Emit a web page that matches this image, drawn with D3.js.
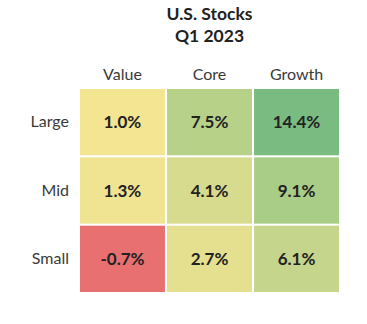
<!DOCTYPE html>
<html>
<head>
<meta charset="utf-8">
<script src="https://cdn.jsdelivr.net/npm/d3@7"></script>
<style>
  html, body { margin: 0; padding: 0; background: #fff; }
  svg { display: block; }
</style>
</head>
<body>
<svg id="chart" width="367" height="324"></svg>
<script>
// Style-box returns for U.S. stocks, first quarter of 2023
const titleLines = ["U.S. Stocks", "Q1 2023"];
const styles = ["Value", "Core", "Growth"];
const sizes = ["Large", "Mid", "Small"];
const large = [1.0, 7.5, 14.4];
const mid = [1.3, 4.1, 9.1];
const small = [-0.7, 2.7, 6.1];

const rows = [large, mid, small];
const cells = [];
sizes.forEach((s, i) => {
  styles.forEach((st, j) => cells.push({ size: s, style: st, value: rows[i][j] }));
});

const svg = d3.select("#chart");
const width = 367, height = 324;
const margin = { top: 89, right: 28, bottom: 32, left: 80 };

const x = d3.scaleBand()
  .domain(styles)
  .range([margin.left, width - margin.right])
  .paddingInner(0.024);

const y = d3.scaleBand()
  .domain(sizes)
  .range([margin.top, height - margin.bottom])
  .paddingInner(0.03);

// Diverging red → yellow → green fill
const vals = cells.map(d => d.value);
const color = d3.scaleLinear()
  .domain([d3.min(vals), 1.0, d3.max(vals)])
  .range(["#e97070", "#f3e592", "#79bb80"])
  .interpolate(d3.interpolateRgb);

// Percent labels with a plain hyphen for negatives
const pct = d3.formatLocale({ decimal: ".", thousands: ",", grouping: [3], currency: ["", ""], minus: "-" })
  .format(".1f");

const font = "Lato, 'DejaVu Sans', sans-serif";

// Title
const cx = (x.range()[0] + x.range()[1]) / 2;
svg.append("g")
  .selectAll("text")
  .data(titleLines)
  .join("text")
  .attr("x", cx)
  .attr("y", (d, i) => 20 + i * 22)
  .attr("text-anchor", "middle")
  .attr("font-family", font)
  .attr("font-weight", 700)
  .attr("font-size", 17.5)
  .attr("fill", "#222")
  .text(d => d);

// Column headers
svg.append("g")
  .call(d3.axisTop(x).tickSize(0).tickPadding(9))
  .call(g => g.select(".domain").remove())
  .attr("transform", `translate(0,${margin.top})`)
  .selectAll("text")
  .attr("font-family", font)
  .attr("font-size", 16)
  .attr("fill", "#3a3a3a");

// Row labels
svg.append("g")
  .call(d3.axisLeft(y).tickSize(0).tickPadding(11))
  .call(g => g.select(".domain").remove())
  .attr("transform", `translate(${margin.left},0)`)
  .selectAll("text")
  .attr("font-family", font)
  .attr("font-size", 16)
  .attr("fill", "#3a3a3a");

// Cells
const cell = svg.append("g")
  .selectAll("g")
  .data(cells)
  .join("g");

cell.append("rect")
  .attr("x", d => x(d.style))
  .attr("y", d => y(d.size))
  .attr("width", x.bandwidth())
  .attr("height", y.bandwidth())
  .attr("fill", d => color(d.value));

cell.append("text")
  .attr("x", d => x(d.style) + x.bandwidth() / 2)
  .attr("y", d => y(d.size) + y.bandwidth() / 2)
  .attr("dy", "0.36em")
  .attr("text-anchor", "middle")
  .attr("font-family", font)
  .attr("font-weight", 700)
  .attr("font-size", 17)
  .attr("fill", "#222")
  .text(d => pct(d.value) + "%");
</script>
</body>
</html>
